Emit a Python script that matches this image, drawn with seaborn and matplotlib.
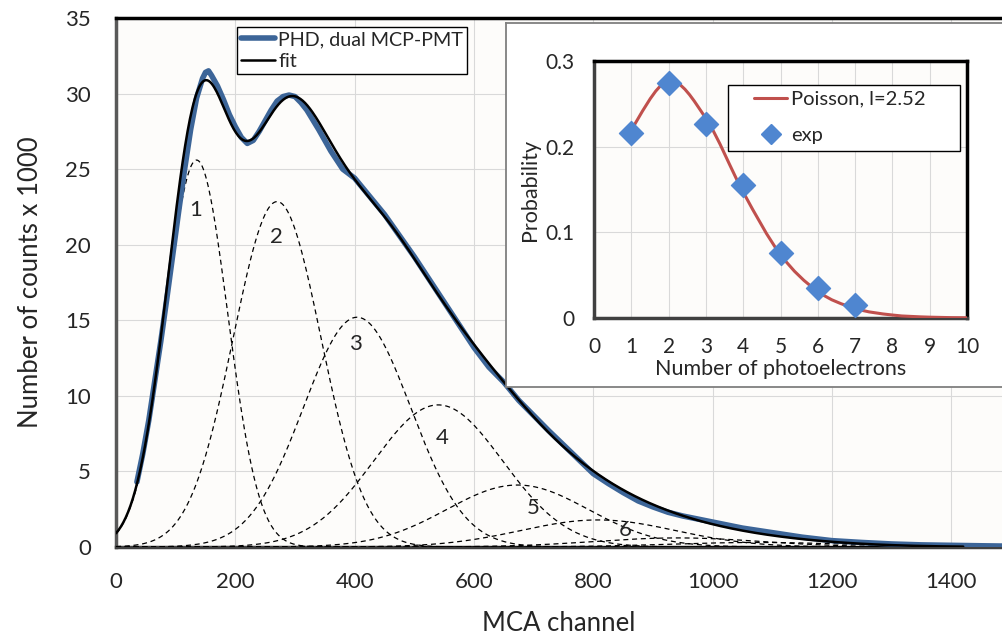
import numpy as np
import matplotlib
matplotlib.use("Agg")
import matplotlib.pyplot as plt
from matplotlib.path import Path
from matplotlib.patches import PathPatch, Rectangle
from matplotlib.lines import Line2D
import seaborn as sns

channel = [35, 45, 55, 65, 75, 85, 95, 105, 115, 125, 135, 145, 150, 155, 160,
           170, 180, 190, 200, 210, 220, 230, 240, 250, 260, 270, 280, 290,
           300, 310, 320, 340, 360, 380, 400, 425, 450, 475, 500, 525, 550,
           575, 600, 625, 650, 675, 700, 725, 750, 775, 800, 825, 850, 875,
           900, 925, 950, 975, 1000, 1050, 1100, 1150, 1200, 1250, 1300,
           1350, 1400, 1450, 1490]
counts = [4.3, 6.2, 8.4, 11.0, 13.6, 16.4, 19.3, 22.2, 25.0, 27.6, 29.7, 31.0,
          31.4, 31.5, 31.2, 30.5, 29.6, 28.6, 27.8, 27.1, 26.7, 26.9, 27.5,
          28.2, 28.9, 29.5, 29.8, 29.9, 29.8, 29.4, 28.9, 27.6, 26.2, 25.0,
          24.4, 23.2, 22.0, 20.6, 19.2, 17.7, 16.2, 14.7, 13.2, 11.9, 10.9,
          9.7, 8.7, 7.7, 6.75, 5.8, 4.85, 4.2, 3.6, 3.05, 2.65, 2.3, 2.05,
          1.85, 1.65, 1.25, 0.95, 0.65, 0.42, 0.3, 0.2, 0.14, 0.11, 0.08, 0.06]

# fitted photoelectron peaks: centre, height, width
peak_centre = [135, 270, 404, 540, 673, 808, 942, 1077]
peak_height = [25.6, 22.85, 15.2, 9.4, 4.1, 1.79, 0.6, 0.3]
peak_sigma = [52, 73.5, 90, 108, 118.5, 130, 140, 150]
peak_labels = ["1", "2", "3", "4", "5", "6"]
label_x = [133, 269, 402, 547, 699, 853]
label_y = [22.3, 20.5, 13.4, 7.2, 2.56, 1.13]

# inset: photoelectron statistics
n_pe = [1, 2, 3, 4, 5, 6, 7, 8, 9, 10]
poisson = [0.220, 0.277, 0.233, 0.147, 0.074, 0.031, 0.0112, 0.0035, 0.0010, 0.0003]
n_exp = [1, 2, 3, 4, 5, 6, 7]
p_exp = [0.216, 0.274, 0.226, 0.155, 0.0755, 0.0347, 0.0152]

sns.set_theme(style="white")
plt.rcParams["font.family"] = ["Lato", "DejaVu Sans"]

fig = plt.figure(figsize=(10.02, 6.39), dpi=100)
ax = fig.add_axes([0.1158, 0.1440, 0.8842, 0.8279])
ax.set_facecolor("#fdfcfa")

xs = np.linspace(0, 1420, 700)
fit = np.zeros_like(xs)
for c, h, s in zip(peak_centre, peak_height, peak_sigma):
    g = h * np.exp(-(xs - c) ** 2 / (2 * s ** 2))
    fit += g
    ax.plot(xs, g, color="black", lw=0.9, ls=(0, (4, 3)), zorder=3)

sns.lineplot(x=channel, y=counts, ax=ax, color="#3c6598", lw=4, sort=False, zorder=4)
sns.lineplot(x=xs, y=fit, ax=ax, color="black", lw=1.8, sort=False, zorder=5)

for t, x, y in zip(peak_labels, label_x, label_y):
    ax.text(x, y, t, fontsize=16, ha="center", va="center", zorder=6)

ax.set_xlim(0, 1485)
ax.set_ylim(0, 35)
ax.set_xticks(range(0, 1401, 200))
ax.set_yticks(range(0, 36, 5))
ax.grid(True, color="#d9d9d9", lw=0.8)
ax.set_axisbelow(True)
ax.tick_params(length=0, pad=18, labelsize=16)
ax.spines["right"].set_visible(False)
ax.spines["top"].set_color("black")
ax.spines["top"].set_linewidth(2.5)
ax.spines["left"].set_color("#595959")
ax.spines["left"].set_linewidth(2.5)
ax.spines["bottom"].set_color("#404040")
ax.spines["bottom"].set_linewidth(2.5)
ax.set_xlabel("MCA channel", fontsize=18.5, labelpad=14)
ax.set_ylabel("Number of counts x 1000", fontsize=18.5, labelpad=16)

handles = [Line2D([], [], color="#3c6598", lw=4), Line2D([], [], color="black", lw=1.8)]
leg = ax.legend(handles, ["PHD, dual MCP-PMT", "fit"], loc="upper left",
                bbox_to_anchor=(0.1366, 0.9824), borderaxespad=0, fontsize=14.2,
                frameon=True, fancybox=False, edgecolor="black", facecolor="white",
                framealpha=1, handlelength=1.7, handletextpad=0.2,
                labelspacing=0.25, borderpad=0.2)
leg.get_frame().set_linewidth(1.0)
leg.set_zorder(7)

# inset frame
frame = fig.add_axes([0.505, 0.3944, 0.497, 0.5701])
frame.set_facecolor("white")
frame.set_xticks([])
frame.set_yticks([])
for k, sp in frame.spines.items():
    sp.set_color("#7f7f7f")
    sp.set_linewidth(1.3)
frame.spines["right"].set_visible(False)

ins = fig.add_axes([0.5928, 0.5023, 0.3723, 0.4022])
ins.set_facecolor("#fdfcfa")

# smoothed line through the Poisson points (Excel-style Bezier)
pts = np.column_stack([n_pe, poisson])
ext = np.vstack([pts[0], pts, pts[-1]])
verts = [tuple(pts[0])]
codes = [Path.MOVETO]
for i in range(1, len(ext) - 2):
    p0, p1, p2, p3 = ext[i - 1], ext[i], ext[i + 1], ext[i + 2]
    verts += [tuple(p1 + (p2 - p0) / 6), tuple(p2 - (p3 - p1) / 6), tuple(p2)]
    codes += [Path.CURVE4] * 3
ins.add_patch(PathPatch(Path(verts, codes), fill=False, edgecolor="#c0504d", lw=2.2, zorder=3))

sns.scatterplot(x=n_exp, y=p_exp, ax=ins, marker="D", s=150, color="#4f86d0",
                edgecolor="#4f86d0", zorder=4)

ins.set_xlim(0, 10)
ins.set_ylim(0, 0.3)
ins.set_xticks(range(0, 11))
ins.set_yticks([0, 0.1, 0.2, 0.3])
ins.set_yticklabels(["0", "0.1", "0.2", "0.3"])
ins.grid(True, color="#d9d9d9", lw=0.8)
ins.set_axisbelow(True)
ins.tick_params(length=0, pad=14, labelsize=15)
for k in ["top", "right"]:
    ins.spines[k].set_color("black")
    ins.spines[k].set_linewidth(2.5)
for k in ["left", "bottom"]:
    ins.spines[k].set_color("#404040")
    ins.spines[k].set_linewidth(2.5)
ins.set_xlabel("Number of photoelectrons", fontsize=15.5, labelpad=1)
ins.set_ylabel("Probability", fontsize=15.5, labelpad=4)

# inset legend: box drawn separately to get the wide padding of the original
ins.add_patch(Rectangle((0.358, 0.648), 0.623, 0.259, transform=ins.transAxes,
                        facecolor="white", edgecolor="black", lw=1.0, zorder=6))
ih = [Line2D([], [], color="#c0504d", lw=2.2),
      Line2D([], [], color="#4f86d0", marker="D", ls="none", markersize=10)]
ileg = ins.legend(ih, ["Poisson, l=2.52", "exp"], loc="upper left",
                  bbox_to_anchor=(0.43, 0.885), borderaxespad=0, fontsize=14.5,
                  frameon=False, handlelength=1.6, handletextpad=0.2,
                  labelspacing=0.95, borderpad=0)
ileg.set_zorder(7)

fig.savefig("out.png", dpi=100, facecolor="white")
